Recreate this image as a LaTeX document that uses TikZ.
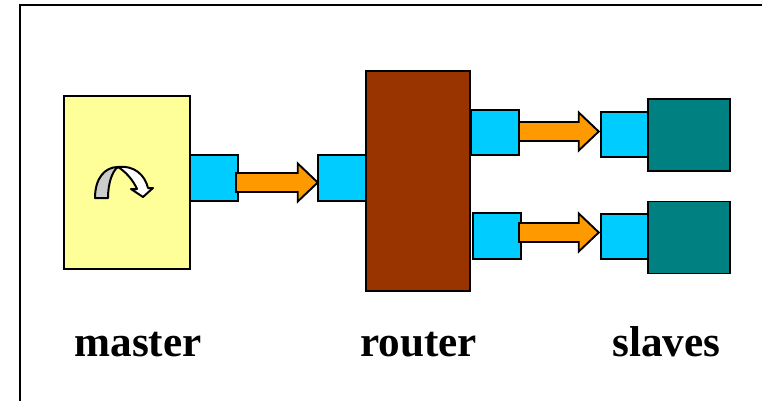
\documentclass[tikz,border=0pt]{standalone}
\usepackage{fontspec}
\setmainfont{Liberation Serif}
\usetikzlibrary{calc}
\tikzset{
  x=1pt,y=-1pt,
  box/.style={draw=black,line width=1.9pt,inner sep=0pt,outer sep=0pt,anchor=center},
  masterbox/.style={box,fill=mastercol,minimum width=126pt,minimum height=173pt},
  routerbox/.style={box,fill=routercol,minimum width=104pt,minimum height=220pt},
  slavebox/.style={box,fill=slavecol,minimum width=82pt,minimum height=72pt},
  portbox/.style={box,fill=portcol,minimum width=47.5pt,minimum height=45.5pt},
  flowarrow/.style={draw=black,line width=1.9pt,fill=flowcol,line join=miter},
  caption/.style={font=\fontsize{43.2pt}{44pt}\selectfont\bfseries,anchor=base,inner sep=0pt},
  frameline/.style={draw=black,line width=2pt,line join=miter},
  iconline/.style={draw=black,line width=2pt,line join=round}
}
\definecolor{mastercol}{HTML}{FFFF99}
\definecolor{routercol}{HTML}{993300}
\definecolor{slavecol}{HTML}{008080}
\definecolor{portcol}{HTML}{00CCFF}
\definecolor{flowcol}{HTML}{FF9900}
\definecolor{icongray}{HTML}{CCCCCC}
% block arrow from named coordinate #1 to named coordinate #2
\newcommand{\blockarrow}[2]{%
  \draw[flowarrow] let \p1=(#1),\p2=(#2) in
    (\x1,{\y1+9.5pt}) -- ({\x2-20pt},{\y1+9.5pt}) -- ({\x2-20pt},{\y1+19pt})
    -- (\x2,\y1) -- ({\x2-20pt},{\y1-19pt}) -- ({\x2-20pt},{\y1-9.5pt})
    -- (\x1,{\y1-9.5pt}) -- cycle;}
\begin{document}
\begin{tikzpicture}
\useasboundingbox (0,0) rectangle (762,401);
\fill[white] (0,0) rectangle (762,401);
\draw[frameline] (20,401) -- (20,5) -- (762,5);

\node[masterbox] (master) at (127,182.5) {};
\node[routerbox] (router) at (418,181) {};
\node[portbox] (pm) at (214,178) {};
\node[portbox] (pr) at (342,178) {};
\node[portbox] (po1) at (495,132.5) {};
\node[portbox] (po2) at (497,236) {};
\node[slavebox] (s1) at (689,135) {};
\node[slavebox] (s2) at (689,237.5) {};
\node[portbox] (ps1) at (624.5,134.5) {};
\node[portbox] (ps2) at (624.5,236.5) {};

\coordinate (a1s) at (236,182.5);
\coordinate (a1t) at ($(pr.west |- a1s)+(-0.5,0)$);
\coordinate (a2s) at (519,131.5);
\coordinate (a2t) at ($(ps1.west |- a2s)+(-2,0)$);
\coordinate (a3s) at (519,232.5);
\coordinate (a3t) at ($(ps2.west |- a3s)+(-2,0)$);
\blockarrow{a1s}{a1t}
\blockarrow{a2s}{a2t}
\blockarrow{a3s}{a3t}

% cycle icon
\draw[iconline,fill=icongray] (95,198) .. controls (95,178) and (105,167) .. (118,167)
  .. controls (112,171) and (108,184) .. (108,198) -- cycle;
\draw[iconline,fill=white] (118,167) .. controls (134,165) and (145,175) .. (148,188)
  -- (153,188) -- (143,197) -- (131,189) -- (137,189)
  .. controls (133,180) and (126,172) .. (118,167) -- cycle;

\node[caption] (lm) at (138,356) {master};
\node[caption] (lr) at (418.5,356) {router};
\node[caption] (ls) at (666.5,356) {slaves};
\end{tikzpicture}
\end{document}
